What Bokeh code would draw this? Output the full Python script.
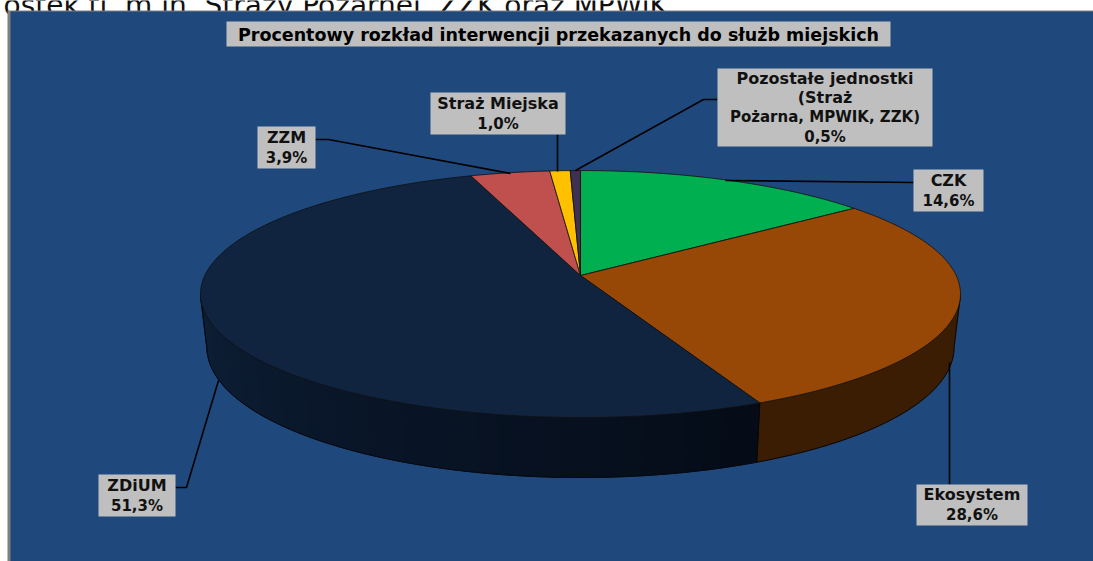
import numpy as np
from bokeh.plotting import figure
from bokeh.models import Range1d
from bokeh.core.properties import value
from bokeh.embed import file_html
from bokeh.resources import INLINE

# --- data
categories = ["CZK", "Ekosystem", "ZDiUM", "ZZM", "Straż Miejska", "Pozostałe jednostki"]
shares = [14.6, 28.6, 51.3, 3.9, 1.0, 0.5]
share_labels = ["14,6%", "28,6%", "51,3%", "3,9%", "1,0%", "0,5%"]
title = "Procentowy rozkład interwencji przekazanych do służb miejskich"
page_line = "ostek tj. m.in. Straży Pożarnej, ZZK oraz MPWiK."

# --- style / layout
W, H = 1093, 561
top_colors = ["#00B050", "#974706", "#10243F", "#C0504D", "#FFC000", "#403152"]
side_colors = ["#006030", "#3A1D02", "#0D1E35", "#702A28", "#906C00", "#261D31"]
BG = "#1F497D"
BOX = "#BFBFBF"
CX, CY = 580.0, 275.0
A, B, K = 120.7, 375.7, 0.15
FONT = value("DejaVu Sans")


def project(theta):
    """Perspective view of the pie's top rim; theta is clockwise from 12 o'clock."""
    u, v = np.sin(theta), np.cos(theta)
    w = 1 + K * v
    return CX + B * u / w, CY - A * v / w


def project_low(theta):
    """Lower rim of the wall: a little narrower, and deeper towards the viewer."""
    x, y = project(theta)
    return CX + (x - CX) * 0.983, y + 52 - 8 * np.cos(theta)


p = figure(width=W, height=H, output_backend="svg", toolbar_location=None,
           x_range=Range1d(0, W), y_range=Range1d(H, 0),
           min_border=0, outline_line_color=None, background_fill_color="white",
           border_fill_color="white")
p.axis.visible = False
p.grid.visible = False
p.styles = {"position": "absolute", "left": "0px", "top": "0px"}

# text of the page above the chart, cut by the top edge as in the reference
p.text(x=[3], y=[5], text=[page_line], text_align="left", text_baseline="alphabetic",
       text_font=FONT, text_font_size="28px", text_color="#111111")

# chart panel
p.quad(left=[7], right=[W], top=[10], bottom=[H], fill_color="#808080", line_color=None)
p.quad(left=[10], right=[W], top=[11], bottom=[H], fill_color=BG, line_color=None)

edges = np.cumsum([0.0] + shares) / sum(shares) * 2 * np.pi

# only the part of the wall between the two side extremes of the rim is visible
grid = np.linspace(0, 2 * np.pi, 1441)
gx, _ = project(grid)
t_right, t_left = grid[np.argmax(gx)], grid[np.argmin(gx)]

for i in range(len(shares)):
    a, b = max(edges[i], t_right), min(edges[i + 1], t_left)
    if a >= b:
        continue
    stops = np.linspace(a, b, 40 if i == 2 else 2)
    for j in range(len(stops) - 1):
        ts = np.linspace(stops[j], stops[j + 1], 12 if i == 2 else 80)
        xs, ys = project(ts)
        xb, yb = project_low(ts)
        col = side_colors[i]
        if i == 2:  # ZDiUM's wall lightens away from the seam
            f = (stops[j] - a) / (b - a)
            c = np.array([0x05, 0x0C, 0x18]) * (1 - f) + np.array([0x0E, 0x20, 0x38]) * f
            col = "#%02x%02x%02x" % tuple(int(q) for q in c)
        p.patch(np.r_[xs, xb[::-1]], np.r_[ys, yb[::-1]],
                fill_color=col, line_color=col, line_width=1)

# outer rim of the wall and the seam
ts = np.linspace(t_right, t_left, 240)
xb, yb = project_low(ts)
x0, y0 = project(np.array([t_right, t_left]))
p.line(np.r_[x0[0], xb, x0[1]], np.r_[y0[0], yb, y0[1]], line_color="#05080f", line_width=1)
sx, sy = project(edges[2])
sxb, syb = project_low(edges[2])
p.line([sx, sxb], [sy, syb], line_color="#050505", line_width=1)

# top faces
for i in range(len(shares)):
    ts = np.linspace(edges[i], edges[i + 1], max(3, int((edges[i + 1] - edges[i]) * 60)))
    xs, ys = project(ts)
    p.patch(np.r_[CX, xs], np.r_[CY, ys], fill_color=top_colors[i],
            line_color="#101010", line_width=0.8)

# label boxes: left edge, right edge, top, bottom
label_boxes = {
    "CZK": (913, 983, 169, 211),
    "Ekosystem": (916, 1027, 484, 525),
    "ZDiUM": (98, 175, 474, 516),
    "ZZM": (257, 315, 126, 168),
    "Straż Miejska": (430, 565, 92, 134),
    "Pozostałe jednostki": (717, 932, 68, 146),
}
leaders = {
    "CZK": ([913, 725], [182, 180]),
    "Ekosystem": ([949, 949], [484, 362]),
    "ZDiUM": ([175, 186, 218], [487, 487, 380]),
    "ZZM": ([315, 328, 510], [139, 139, 173]),
    "Straż Miejska": ([557, 557], [134, 171]),
    "Pozostałe jednostki": ([717, 703, 575], [99, 99, 170]),
}
label_lines = {
    "Pozostałe jednostki": ["Pozostałe jednostki", "(Straż", "Pożarna, MPWIK, ZZK)"],
}

for name in categories:
    lx, ly = leaders[name]
    p.line(lx, ly, line_color="black", line_width=1.6)

for name, pct in zip(categories, share_labels):
    l, r, t, b = label_boxes[name]
    p.quad(left=[l], right=[r], top=[t], bottom=[b], fill_color=BOX, line_color=None)
    lines = label_lines.get(name, [name]) + [pct]
    step = (b - t) / len(lines)
    for k, line in enumerate(lines):
        size = "15px" if (line == pct or line.endswith("ZZK)")) else "16px"
        p.text(x=[(l + r) / 2], y=[t + step * (k + 0.5)], text=[line], text_align="center",
               text_baseline="middle", text_font=FONT, text_font_size=size,
               text_font_style="bold", text_color="#111111")

# title
p.quad(left=[226], right=[890], top=[21], bottom=[46], fill_color=BOX, line_color=None)
p.text(x=[558], y=[34], text=[title], text_align="center", text_baseline="middle",
       text_font=FONT, text_font_size="17.5px", text_font_style="bold", text_color="black")

open("out.html", "w").write(file_html(p, INLINE))
